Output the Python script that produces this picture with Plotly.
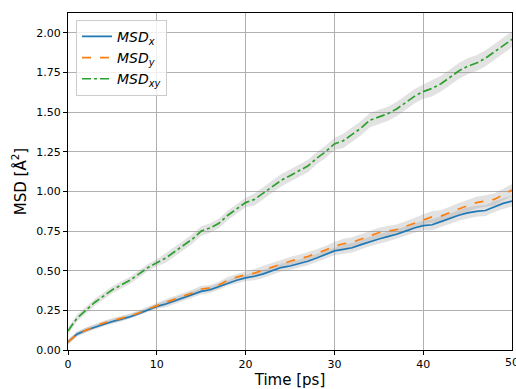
import plotly.graph_objects as go

time_ps = list(range(0, 51))

msd_x = [0.05, 0.10, 0.125, 0.145, 0.165, 0.18, 0.195, 0.21, 0.23, 0.255,
         0.275, 0.29, 0.31, 0.33, 0.35, 0.37, 0.38, 0.40, 0.425, 0.44,
         0.455, 0.465, 0.48, 0.50, 0.52, 0.53, 0.545, 0.56, 0.58, 0.60,
         0.625, 0.635, 0.645, 0.665, 0.685, 0.70, 0.715, 0.73, 0.75, 0.77,
         0.785, 0.79, 0.81, 0.83, 0.85, 0.865, 0.875, 0.88, 0.905, 0.925, 0.94]

msd_y = [0.05, 0.10, 0.125, 0.15, 0.17, 0.185, 0.20, 0.215, 0.235, 0.26,
         0.28, 0.30, 0.32, 0.34, 0.36, 0.385, 0.39, 0.41, 0.44, 0.46,
         0.475, 0.485, 0.505, 0.525, 0.545, 0.56, 0.575, 0.59, 0.61, 0.63,
         0.655, 0.67, 0.68, 0.70, 0.72, 0.74, 0.75, 0.76, 0.78, 0.80,
         0.825, 0.84, 0.845, 0.87, 0.89, 0.91, 0.93, 0.94, 0.95, 0.98, 1.01]

msd_xy = [0.12, 0.20, 0.25, 0.30, 0.34, 0.38, 0.41, 0.44, 0.48, 0.52,
          0.55, 0.58, 0.62, 0.66, 0.70, 0.75, 0.77, 0.80, 0.85, 0.89,
          0.93, 0.95, 0.99, 1.03, 1.07, 1.10, 1.13, 1.16, 1.21, 1.25,
          1.30, 1.32, 1.36, 1.40, 1.45, 1.47, 1.49, 1.52, 1.56, 1.60,
          1.63, 1.65, 1.68, 1.72, 1.76, 1.79, 1.81, 1.84, 1.88, 1.92, 1.96]

# standard deviation (half-width of the grey band), per 10 ps block
std_x = [0.015] * 11 + [0.02] * 10 + [0.025] * 10 + [0.03] * 10 + [0.035] * 10
std_y = [0.015] * 11 + [0.02] * 10 + [0.026] * 10 + [0.032] * 10 + [0.037] * 10
std_xy = [0.022] * 11 + [0.03] * 10 + [0.038] * 10 + [0.045] * 10 + [0.05] * 10

x_ticks = [0, 10, 20, 30, 40, 50]
y_ticks = [0, 0.25, 0.5, 0.75, 1.0, 1.25, 1.5, 1.75, 2.0]

series = [
    ("<i>MSD<sub>x</sub></i>", msd_x, std_x, "#1f77b4", "solid"),
    ("<i>MSD<sub>y</sub></i>", msd_y, std_y, "#ff7f0e", "dash"),
    ("<i>MSD<sub>xy</sub></i>", msd_xy, std_xy, "#2ca02c", "dashdot"),
]

fig = go.Figure()

for name, vals, std, color, dash in series:
    upper = [v + s for v, s in zip(vals, std)]
    lower = [v - s for v, s in zip(vals, std)]
    fig.add_trace(go.Scatter(
        x=time_ps + time_ps[::-1], y=upper + lower[::-1],
        fill="toself", fillcolor="rgba(150,150,150,0.28)",
        line=dict(width=0), mode="lines", showlegend=False, hoverinfo="skip"))

for name, vals, std, color, dash in series:
    fig.add_trace(go.Scatter(
        x=time_ps, y=vals, mode="lines", name=name,
        line=dict(color=color, width=1.7, dash=dash)))

axis_common = dict(
    showline=True, linecolor="black", linewidth=1, mirror=True,
    ticks="outside", ticklen=4, tickcolor="black", tickwidth=1,
    showgrid=True, gridcolor="#b0b0b0", gridwidth=1, zeroline=False,
    tickfont=dict(family="DejaVu Sans", size=11, color="black"),
)

fig.update_layout(
    width=516, height=389,
    margin=dict(l=68, r=4, t=13, b=39),
    plot_bgcolor="white", paper_bgcolor="white",
    font=dict(family="DejaVu Sans", color="black"),
    xaxis=dict(range=[0, 50], tickvals=x_ticks[:-1],
               title=dict(text="Time [ps]", font=dict(size=15), standoff=4),
               **axis_common),
    yaxis=dict(range=[0, 2.126], tickvals=y_ticks,
               tickformat=".2f",
               title=dict(text="MSD [Å<sup>2</sup>]", font=dict(size=15), standoff=6),
               **axis_common),
    legend=dict(x=0.018, y=0.98, xanchor="left", yanchor="top",
                bgcolor="rgba(255,255,255,0.8)", bordercolor="#cccccc", borderwidth=1,
                font=dict(family="DejaVu Sans", size=14)),
)

# last x tick label (clipped by the page edge as in the reference)
fig.add_annotation(x=x_ticks[-1], y=0, xref="x", yref="paper", text=str(x_ticks[-1]),
                   showarrow=False, yanchor="top", xanchor="center", yshift=-4,
                   font=dict(family="DejaVu Sans", size=11, color="black"))

fig.write_html("out.html")
